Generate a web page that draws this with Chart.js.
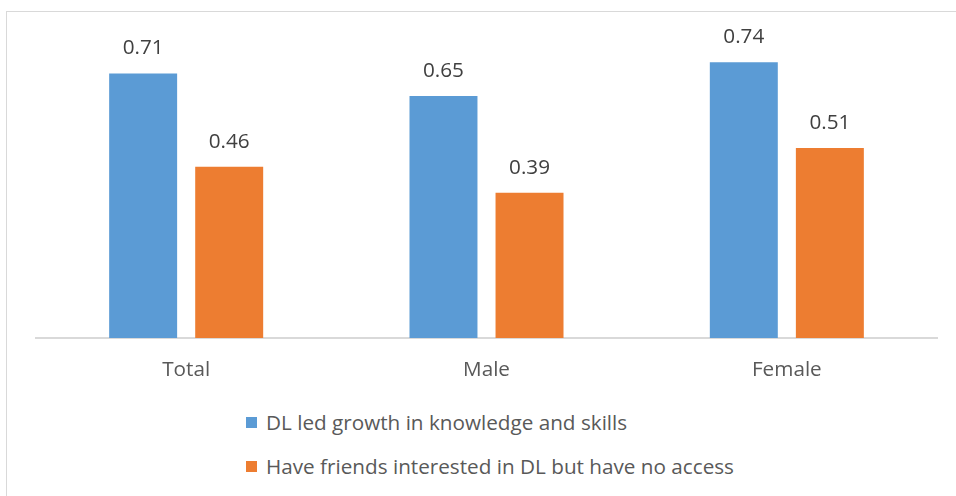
<!DOCTYPE html>
<html lang="en">
  <head>
    <meta charset="UTF-8" />
    <title>DL growth and access</title>
    <script src="https://cdn.jsdelivr.net/npm/chart.js"></script>
    <style>
      body {
        margin: 0;
        background: #ffffff;
        font-family: "Open Sans", sans-serif;
        color: #595959;
        overflow: hidden;
      }

      #frame {
        position: absolute;
        left: 6px;
        top: 11px;
        width: 1000px;
        height: 600px;
        border: 1px solid #d9d9d9;
      }

      #wrap {
        position: absolute;
        left: 0;
        top: 0;
        width: 956px;
        height: 400px;
      }

      #legend {
        position: absolute;
        left: 246px;
        top: 400px;
        font-size: 20.7px;
      }

      .item {
        height: 44px;
        display: flex;
        align-items: center;
      }

      .swatch {
        width: 11px;
        height: 11px;
        margin-right: 9px;
      }
    </style>
  </head>
  <body>
    <div id="frame"></div>
    <div id="wrap"><canvas id="chart" width="956" height="400"></canvas></div>
    <div id="legend"></div>

    <script>
      const categories = ["Total", "Male", "Female"];
      const growthValues = [0.71, 0.65, 0.74];
      const noAccessValues = [0.46, 0.39, 0.51];
      const seriesNames = [
        "DL led growth in knowledge and skills",
        "Have friends interested in DL but have no access",
      ];
      const seriesColors = ["#5b9bd5", "#ed7d31"];

      // value labels above each bar
      const barLabels = {
        id: "barLabels",
        afterDatasetsDraw(chart) {
          const ctx = chart.ctx;
          ctx.save();
          ctx.font = '20.7px "Open Sans"';
          ctx.fillStyle = "#404040";
          ctx.textAlign = "center";
          ctx.textBaseline = "middle";
          chart.data.datasets.forEach((ds, i) => {
            chart.getDatasetMeta(i).data.forEach((bar, j) => {
              ctx.fillText(ds.data[j].toFixed(2), bar.x, bar.y - 25);
            });
          });
          ctx.restore();
        },
      };

      const chart = new Chart(document.getElementById("chart"), {
        type: "bar",
        data: {
          labels: categories,
          datasets: [
            {
              label: seriesNames[0],
              data: growthValues,
              backgroundColor: seriesColors[0],
            },
            {
              label: seriesNames[1],
              data: noAccessValues,
              backgroundColor: seriesColors[1],
            },
          ],
        },
        options: {
          responsive: false,
          animation: false,
          categoryPercentage: 0.573,
          barPercentage: 0.79,
          layout: { padding: { left: 36, right: 19, top: 40, bottom: 10 } },
          plugins: {
            legend: { display: false },
            tooltip: { enabled: false },
          },
          scales: {
            x: {
              grid: { display: false },
              border: { color: "#d9d9d9", width: 2 },
              ticks: {
                color: "#595959",
                font: { family: "Open Sans", size: 20.7 },
                padding: 12,
              },
              afterFit(scale) {
                scale.height = 52;
              },
            },
            y: {
              display: false,
              min: 0,
              max: 0.8,
            },
          },
        },
        plugins: [barLabels],
      });

      // legend stacked below the plot
      const legend = document.getElementById("legend");
      chart.data.datasets.forEach((ds) => {
        const row = document.createElement("div");
        row.className = "item";
        const sw = document.createElement("span");
        sw.className = "swatch";
        sw.style.background = ds.backgroundColor;
        row.appendChild(sw);
        row.appendChild(document.createTextNode(ds.label));
        legend.appendChild(row);
      });
    </script>
  </body>
</html>
